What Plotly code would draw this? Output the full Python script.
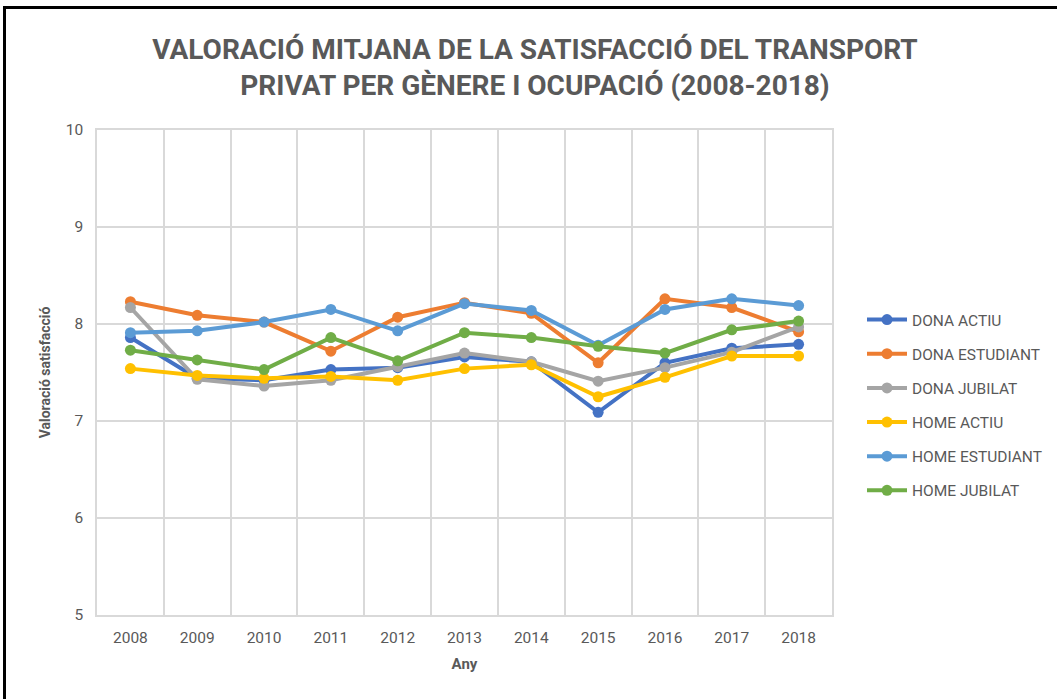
import plotly.graph_objects as go

years = [2008, 2009, 2010, 2011, 2012, 2013, 2014, 2015, 2016, 2017, 2018]

dona_actiu = [7.86, 7.44, 7.42, 7.53, 7.55, 7.66, 7.61, 7.09, 7.60, 7.75, 7.79]
dona_estudiant = [8.23, 8.09, 8.02, 7.72, 8.07, 8.22, 8.11, 7.60, 8.26, 8.17, 7.92]
dona_jubilat = [8.17, 7.43, 7.36, 7.42, 7.56, 7.70, 7.61, 7.41, 7.55, 7.71, 7.97]
home_actiu = [7.54, 7.47, 7.44, 7.46, 7.42, 7.54, 7.58, 7.25, 7.45, 7.67, 7.67]
home_estudiant = [7.91, 7.93, 8.02, 8.15, 7.93, 8.21, 8.14, 7.78, 8.15, 8.26, 8.19]
home_jubilat = [7.73, 7.63, 7.53, 7.86, 7.62, 7.91, 7.86, 7.77, 7.70, 7.94, 8.03]

series_names = ["DONA ACTIU", "DONA ESTUDIANT", "DONA JUBILAT",
                "HOME ACTIU", "HOME ESTUDIANT", "HOME JUBILAT"]
series_values = [dona_actiu, dona_estudiant, dona_jubilat,
                 home_actiu, home_estudiant, home_jubilat]
colors = ["#4472C4", "#ED7D31", "#A5A5A5", "#FFC000", "#5B9BD5", "#70AD47"]

FONT = "Roboto, 'Open Sans', sans-serif"
GRID = "#D9D9D9"
TXT = "#595959"

W, H = 1057, 699
L, R, T, B = 97, 832, 130, 615

fig = go.Figure()
for i, (name, vals, col) in enumerate(zip(series_names, series_values, colors)):
    fig.add_trace(go.Scatter(
        x=years, y=vals, name=name, mode="lines+markers",
        line=dict(color=col, width=4),
        marker=dict(color=col, size=11),
        legendgroup=f"g{i}",
    ))

def px_x(p):
    return (p - L) / (R - L)

def px_y(p):
    return (B - p) / (B - T)

fig.add_shape(type="rect", xref="paper", yref="paper",
              x0=px_x(4.5), x1=px_x(1065), y0=px_y(7.5), y1=px_y(710),
              line=dict(color="#000000", width=3), fillcolor="rgba(0,0,0,0)",
              layer="above")

fig.update_layout(
    width=W, height=H,
    margin=dict(l=L, r=W - R, t=T, b=H - B, autoexpand=False),
    paper_bgcolor="white", plot_bgcolor="white",
    font=dict(family=FONT, color=TXT, size=16),
    title=dict(
        text="VALORACIÓ MITJANA DE LA SATISFACCIÓ DEL TRANSPORT<br>PRIVAT PER GÈNERE I OCUPACIÓ (2008-2018)",
        x=535 / W, xanchor="center",
        y=1 - 59 / H, yanchor="top", yref="container",
        font=dict(family=FONT, size=28, color=TXT, weight="bold"),
    ),
    xaxis=dict(
        range=[2007.5, 2018.5],
        tickmode="array", tickvals=years, ticktext=[str(y) for y in years],
        showgrid=False, zeroline=False,
        showline=True, linecolor=GRID, linewidth=1.5, mirror=True,
        ticks="", ticklabelstandoff=8,
        tickfont=dict(size=15.5, color=TXT),
        minor=dict(tick0=2007.5, dtick=1, showgrid=True, gridcolor=GRID, gridwidth=1.5, ticks=""),
        title=dict(text="Any", font=dict(size=15, color=TXT, weight="bold"), standoff=12),
    ),
    yaxis=dict(
        range=[5, 10], dtick=1, tick0=5,
        showgrid=True, gridcolor=GRID, gridwidth=1.5, zeroline=False,
        showline=True, linecolor=GRID, linewidth=1.5, mirror=True,
        ticks="", ticklabelstandoff=9,
        tickfont=dict(size=15.5, color=TXT),
        title=dict(text="Valoració satisfacció", font=dict(size=14, color=TXT, weight="bold"), standoff=12),
    ),
    legend=dict(
        x=px_x(862), xanchor="left", y=px_y(303), yanchor="top",
        font=dict(size=15.5, color=TXT),
        tracegroupgap=11, itemwidth=40,
        bgcolor="rgba(0,0,0,0)",
    ),
    showlegend=True,
)

fig.write_html("out.html", config={"displayModeBar": False},
               post_script="document.body.style.margin='0';")
